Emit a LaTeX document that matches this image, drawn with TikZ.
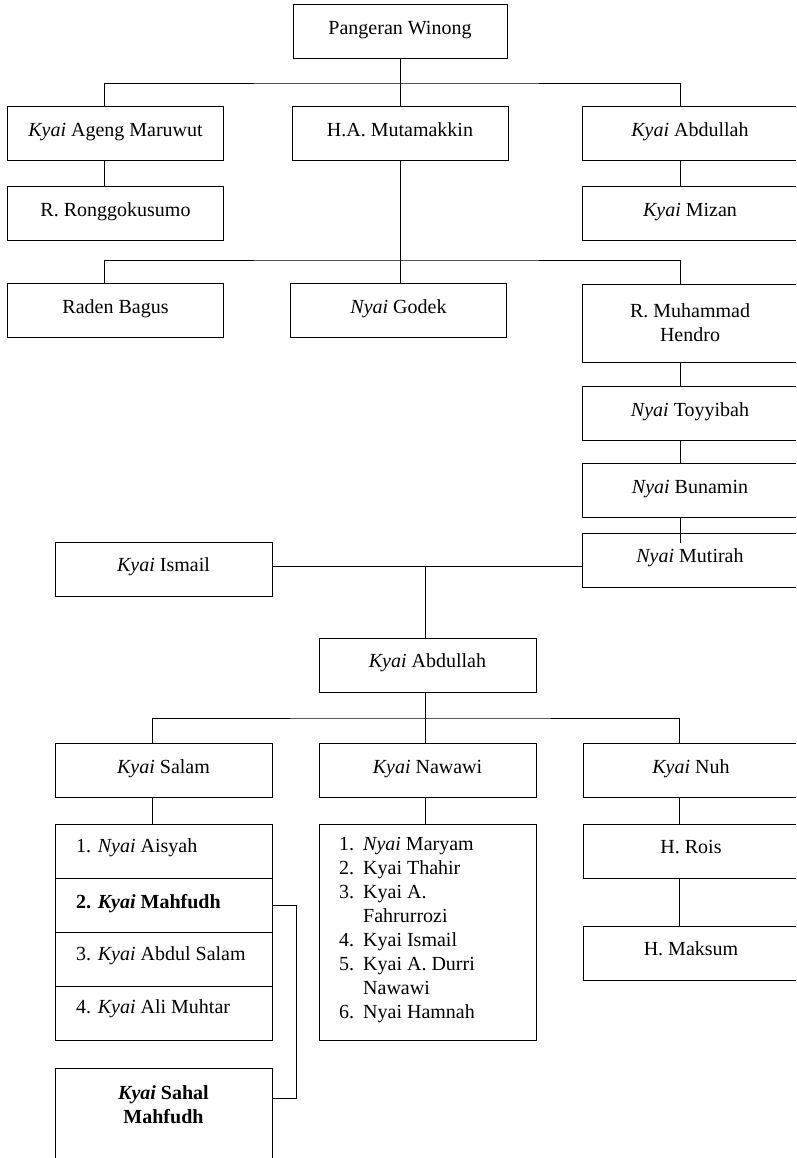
\documentclass[tikz,border=0pt]{standalone}
\usepackage{fontspec}
\setmainfont{Liberation Serif}
\begin{document}
\begin{tikzpicture}[x=1pt,y=-1pt,
  box/.style={draw,line width=1pt,minimum width=216pt,minimum height=54pt,inner sep=0pt,
    font=\fontsize{20}{24}\selectfont,text height=13pt,text depth=8pt,align=center},
  mbox/.style={draw,line width=1pt,minimum width=216pt,inner sep=0pt,
    font=\fontsize{20}{24}\selectfont,align=center},
  cell/.style={draw,line width=1pt,minimum width=217pt,minimum height=54pt,inner sep=0pt},
  ltext/.style={inner sep=0pt,align=left,font=\fontsize{20}{24}\selectfont},
  conn/.style={line width=0.8pt}]
\useasboundingbox (0,0) rectangle (796,1158);
\clip (0,0) rectangle (796,1158);
\coordinate (cl) at (104,0);
\coordinate (cr) at (680,0);
\coordinate (cs) at (152,0);
\coordinate (cn) at (679,0);
% boxes
\node[box,minimum width=214pt] (pw) at (400,32) {Pangeran Winong};
\node[box] (kam) at (115.5,134) {\textit{Kyai} Ageng Maruwut};
\node[box] (ham) at (400,134) {H.A. Mutamakkin};
\node[box] (kab) at (690,134) {\textit{Kyai} Abdullah};
\node[box] (ron) at (115.5,214) {R. Ronggokusumo};
\node[box] (miz) at (690,214) {\textit{Kyai} Mizan};
\node[box] (rb) at (115.5,310.5) {Raden Bagus};
\node[box] (ng) at (398.5,310.5) {\textit{Nyai} Godek};
\node[mbox,minimum height=78pt] (hen) at (690,323) {R. Muhammad\\Hendro};
\node[box] (toy) at (690,413.5) {\textit{Nyai} Toyyibah};
\node[box] (bun) at (690,490.5) {\textit{Nyai} Bunamin};
\node[box] (mut) at (690,560) {\textit{Nyai} Mutirah};
\node[box,minimum width=217pt] (ism) at (163.5,569) {\textit{Kyai} Ismail};
\node[box,minimum width=217pt] (abd) at (427.5,665) {\textit{Kyai} Abdullah};
\node[box,minimum width=217pt] (sal) at (163.5,770.5) {\textit{Kyai} Salam};
\node[box,minimum width=217pt] (naw) at (427.5,770.5) {\textit{Kyai} Nawawi};
\node[box] (nuh) at (691,770.5) {\textit{Kyai} Nuh};
% Salam children list
\node[cell] (c1) at (163.5,851) {};
\node[cell] (c2) at (163.5,905) {};
\node[cell] (c3) at (163.5,959) {};
\node[cell] (c4) at (163.5,1013) {};
\node[ltext,anchor=base west] (t1) at (76,852) {1. \textit{Nyai} Aisyah};
\node[ltext,anchor=base west] (t2) at (76,908) {\textbf{2. \textit{Kyai} Mahfudh}};
\node[ltext,anchor=base west] (t3) at (76,960) {3. \textit{Kyai} Abdul Salam};
\node[ltext,anchor=base west] (t4) at (76,1013) {4. \textit{Kyai} Ali Muhtar};
% Nawawi children list
\node[cell,minimum height=216pt] (nl) at (427.5,932) {};
\node[ltext,anchor=north west] (nlt) at (339,837) {%
\makebox[24pt][l]{1.}\textit{Nyai} Maryam\\
\makebox[24pt][l]{2.}Kyai Thahir\\
\makebox[24pt][l]{3.}Kyai A.\\
\hspace*{24pt}Fahrurrozi\\
\makebox[24pt][l]{4.}Kyai Ismail\\
\makebox[24pt][l]{5.}Kyai A. Durri\\
\hspace*{24pt}Nawawi\\
\makebox[24pt][l]{6.}Nyai Hamnah};
\node[box] (rois) at (691,851) {H. Rois};
\node[box] (maks) at (691,953) {H. Maksum};
\node[draw,line width=1pt,minimum width=217pt,minimum height=120pt,inner sep=0pt,anchor=north] (sahal) at (163.5,1068) {};
\node[font=\fontsize{20}{24}\selectfont\bfseries,align=center,inner sep=0pt] (sahaltxt) at (163.5,1105) {\textit{Kyai} Sahal\\Mahfudh};
\coordinate (sj) at (272,1098);
% connectors
\coordinate (j1) at (400,83);
\coordinate (j2) at (400,260);
\coordinate (j3) at (425,566);
\coordinate (j4) at (425,718);
\draw[conn] (pw.south) -- (j1);
\draw[conn] (cl |- kam.north) |- (j1) -| (cr |- kab.north);
\draw[conn] (ham.north) -- (j1);
\draw[conn] (cl |- kam.south) -- (cl |- ron.north);
\draw[conn] (cr |- kab.south) -- (cr |- miz.north);
\draw[conn] (ham.south) -- (j2);
\draw[conn] (cl |- rb.north) |- (j2) -| (cr |- hen.north);
\draw[conn] (j2) -- (j2 |- ng.north);
\draw[conn] (cr |- hen.south) -- (cr |- toy.north);
\draw[conn] (cr |- toy.south) -- (cr |- bun.north);
\draw[conn] (cr |- bun.south) -- ++(0,25);
\draw[conn] (ism.east |- j3) -- (mut.west |- j3);
\draw[conn] (j3) -- (j3 |- abd.north);
\draw[conn] (j3 |- abd.south) -- (j4);
\draw[conn] (cs |- sal.north) |- (j4) -| (cn |- nuh.north);
\draw[conn] (j4) -- (j4 |- naw.north);
\draw[conn] (cs |- sal.south) -- (cs |- c1.north);
\draw[conn] (j4 |- naw.south) -- (j4 |- nl.north);
\draw[conn] (cn |- nuh.south) -- (cn |- rois.north);
\draw[conn] (cn |- rois.south) -- (cn |- maks.north);
\draw[conn] (c2.east) -- ++(24,0) |- (sj);
\end{tikzpicture}
\end{document}
